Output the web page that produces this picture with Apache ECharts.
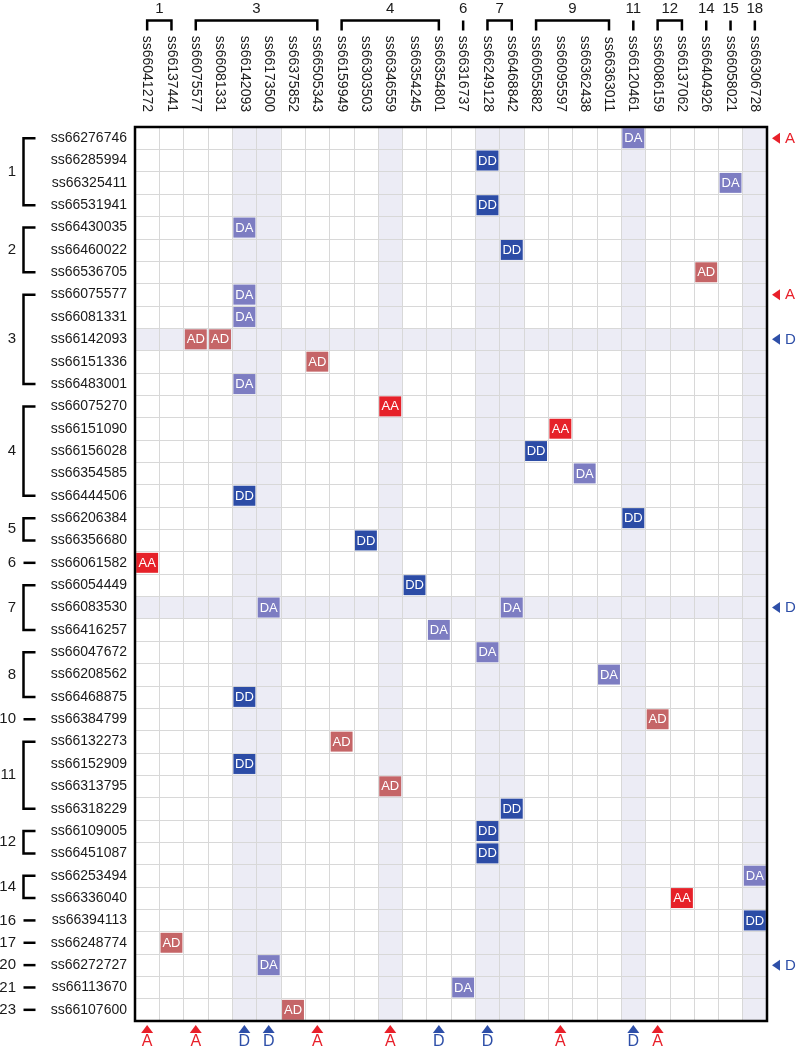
<!DOCTYPE html>
<html><head><meta charset="utf-8">
<script src="https://cdn.jsdelivr.net/npm/echarts@6/dist/echarts.min.js"></script>
<style>html,body{margin:0;padding:0;background:#fff}#c{width:798px;height:1050px}</style>
</head><body><div id="c"></div>
<script>
const colLabels = ['ss66041272','ss66137441','ss66075577','ss66081331','ss66142093','ss66173500','ss66375852','ss66505343','ss66159949','ss66303503','ss66346559','ss66354245','ss66354801','ss66316737','ss66249128','ss66468842','ss66055882','ss66095597','ss66362438','ss66363011','ss66120461','ss66086159','ss66137062','ss66404926','ss66058021','ss66306728'];
const colGroupLabels = ['1','3','4','6','7','9','11','12','14','15','18'];
const colGroupSizes = [2,6,5,1,2,4,1,2,1,1,1];
const rowLabels = ['ss66276746','ss66285994','ss66325411','ss66531941','ss66430035','ss66460022','ss66536705','ss66075577','ss66081331','ss66142093','ss66151336','ss66483001','ss66075270','ss66151090','ss66156028','ss66354585','ss66444506','ss66206384','ss66356680','ss66061582','ss66054449','ss66083530','ss66416257','ss66047672','ss66208562','ss66468875','ss66384799','ss66132273','ss66152909','ss66313795','ss66318229','ss66109005','ss66451087','ss66253494','ss66336040','ss66394113','ss66248774','ss66272727','ss66113670','ss66107600'];
const rowGroupLabels = ['1','2','3','4','5','6','7','8','10','11','12','14','16','17','20','21','23'];
const rowGroupSizes = [4,3,5,5,2,1,3,3,1,4,2,2,1,1,1,1,1];
const genotypes = ['AA','AD','DA','DD'];
// [column index, row index, genotype]
const cells = [
  [20,0,'DA'],[14,1,'DD'],[24,2,'DA'],[14,3,'DD'],[4,4,'DA'],[15,5,'DD'],[23,6,'AD'],
  [4,7,'DA'],[4,8,'DA'],[2,9,'AD'],[3,9,'AD'],[7,10,'AD'],[4,11,'DA'],
  [10,12,'AA'],[17,13,'AA'],[16,14,'DD'],[18,15,'DA'],[4,16,'DD'],
  [20,17,'DD'],[9,18,'DD'],[0,19,'AA'],[11,20,'DD'],[5,21,'DA'],[15,21,'DA'],[12,22,'DA'],
  [14,23,'DA'],[19,24,'DA'],[4,25,'DD'],[21,26,'AD'],[8,27,'AD'],[4,28,'DD'],[10,29,'AD'],[15,30,'DD'],
  [14,31,'DD'],[14,32,'DD'],[25,33,'DA'],[22,34,'AA'],[25,35,'DD'],[1,36,'AD'],[5,37,'DA'],[13,38,'DA'],[6,39,'AD']
];
const shadedCols = [4,5,10,14,15,20,25];
const shadedRows = [9,21];
const bottomMarkers = [[0,'A'],[2,'A'],[4,'D'],[5,'D'],[7,'A'],[10,'A'],[12,'D'],[14,'D'],[17,'A'],[20,'D'],[21,'A']];
const rightMarkers = [[0,'A'],[7,'A'],[9,'D'],[21,'D'],[37,'D']];
const markerTypes = ['A','D'];

const genoColors = {AA:'#e62129', AD:'#c56567', DA:'#7d7dc2', DD:'#2c4ca6'};
const markerColors = {A:'#e8202a', D:'#2e4fa8'};
const shadeColor = '#ececf5';
const FONT = '"Liberation Sans", Arial, sans-serif';

function spans(sizes){ let s=0; return sizes.map(n=>{ const r=[s,s+n-1]; s+=n; return r; }); }
const colSpans = spans(colGroupSizes);
const rowSpans = spans(rowGroupSizes);

const chart = echarts.init(document.getElementById('c'), null, {renderer:'canvas'});
const LW = 2.5;

const option = {
  animation:false,
  backgroundColor:'#fff',
  grid:{left:135, right:31, top:127, bottom:29, show:false, containLabel:false},
  xAxis:{type:'category', position:'top', data:colLabels,
    axisLine:{show:false}, axisTick:{show:false},
    axisLabel:{rotate:90, interval:0, margin:15, fontSize:14, color:'#1a1a1a', fontFamily:FONT},
    splitLine:{show:true, interval:0, lineStyle:{color:'#d8d8d8', width:1}}},
  yAxis:{type:'category', inverse:true, data:rowLabels,
    axisLine:{show:false}, axisTick:{show:false},
    axisLabel:{interval:0, margin:8, fontSize:14, color:'#1a1a1a', fontFamily:FONT},
    splitLine:{show:true, interval:0, lineStyle:{color:'#d8d8d8', width:1}}},
  series:[
    { type:'custom', z:-1, silent:true, clip:false,
      data: shadedCols.map(c=>[c,0,0]).concat(shadedRows.map(r=>[0,r,1])),
      renderItem(params, api){
        const cs = params.coordSys; const sz = api.size([1,1]);
        if(api.value(2)===0){
          const x = api.coord([api.value(0),0])[0];
          return {type:'rect', shape:{x:x-sz[0]/2, y:cs.y, width:sz[0], height:cs.height}, style:{fill:shadeColor}};
        } else {
          const y = api.coord([0,api.value(1)])[1];
          return {type:'rect', shape:{x:cs.x, y:y-sz[1]/2, width:cs.width, height:sz[1]}, style:{fill:shadeColor}};
        }
      }
    },
    { type:'custom', z:3, silent:true, clip:false,
      data: cells.map(([c,r,g])=>[c,r,genotypes.indexOf(g)]),
      renderItem(params, api){
        const p = api.coord([api.value(0), api.value(1)]);
        const sz = api.size([1,1]);
        const g = genotypes[api.value(2)];
        const w = sz[0]-2.4, h = sz[1]-2.4;
        return {type:'group', children:[
          {type:'rect', shape:{x:p[0]-w/2, y:p[1]-h/2, width:w, height:h}, style:{fill:genoColors[g]}},
          {type:'text', style:{x:p[0], y:p[1]+0.5, text:g, align:'center', verticalAlign:'middle', fill:'#fff', fontSize:13, fontFamily:FONT}}
        ]};
      }
    },
    { type:'custom', z:4, silent:true, clip:false,
      data: [[0,0]],
      renderItem(params, api){
        const cs = params.coordSys;
        return {type:'rect', shape:{x:cs.x, y:cs.y, width:cs.width, height:cs.height}, style:{fill:null, stroke:'#000', lineWidth:2.5}};
      }
    },
    { type:'custom', z:3, silent:true, clip:false,
      data: colSpans.map((s,i)=>[s[0],0,s[1],i]),
      renderItem(params, api){
        const cs = params.coordSys;
        const x1 = api.coord([api.value(0),0])[0];
        const x2 = api.coord([api.value(2),0])[0];
        const yTop = cs.y - 106.5, yBot = cs.y - 96.5;
        const line = x1===x2
          ? {type:'polyline', shape:{points:[[x1,yTop],[x1,yBot]]}, style:{stroke:'#000', lineWidth:LW, fill:null}}
          : {type:'polyline', shape:{points:[[x1,yBot],[x1,yTop],[x2,yTop],[x2,yBot]]}, style:{stroke:'#000', lineWidth:LW, fill:null}};
        return {type:'group', children:[line,
          {type:'text', style:{x:(x1+x2)/2, y:cs.y-118.5, text:colGroupLabels[api.value(3)], align:'center', verticalAlign:'middle', fill:'#1a1a1a', fontSize:15, fontFamily:FONT}}]};
      }
    },
    { type:'custom', z:3, silent:true, clip:false,
      data: rowSpans.map((s,i)=>[0,s[0],s[1],i]),
      renderItem(params, api){
        const cs = params.coordSys;
        const y1 = api.coord([0,api.value(1)])[1];
        const y2 = api.coord([0,api.value(2)])[1];
        const xV = cs.x - 111.5, xE = cs.x - 99.5;
        const line = y1===y2
          ? {type:'polyline', shape:{points:[[xV,y1],[xE,y1]]}, style:{stroke:'#000', lineWidth:LW, fill:null}}
          : {type:'polyline', shape:{points:[[xE,y1],[xV,y1],[xV,y2],[xE,y2]]}, style:{stroke:'#000', lineWidth:LW, fill:null}};
        return {type:'group', children:[line,
          {type:'text', style:{x:cs.x-119, y:(y1+y2)/2, text:rowGroupLabels[api.value(3)], align:'right', verticalAlign:'middle', fill:'#1a1a1a', fontSize:15, fontFamily:FONT}}]};
      }
    },
    { type:'custom', z:3, silent:true, clip:false,
      data: bottomMarkers.map(([c,t])=>[c,0,markerTypes.indexOf(t)]),
      renderItem(params, api){
        const cs = params.coordSys;
        const x = api.coord([api.value(0),0])[0];
        const t = markerTypes[api.value(2)];
        const yb = cs.y + cs.height;
        return {type:'group', children:[
          {type:'polygon', shape:{points:[[x,yb+4],[x-6,yb+12],[x+6,yb+12]]}, style:{fill:markerColors[t]}},
          {type:'text', style:{x:x, y:yb+20.5, text:t, align:'center', verticalAlign:'middle', fill:markerColors[t], fontSize:16, fontFamily:FONT}}
        ]};
      }
    },
    { type:'custom', z:3, silent:true, clip:false,
      data: rightMarkers.map(([r,t])=>[0,r,markerTypes.indexOf(t)]),
      renderItem(params, api){
        const cs = params.coordSys;
        const y = api.coord([0,api.value(1)])[1];
        const t = markerTypes[api.value(2)];
        const xr = cs.x + cs.width;
        return {type:'group', children:[
          {type:'polygon', shape:{points:[[xr+5,y],[xr+13,y-5.5],[xr+13,y+5.5]]}, style:{fill:markerColors[t]}},
          {type:'text', style:{x:xr+18, y:y+0.5, text:t, align:'left', verticalAlign:'middle', fill:markerColors[t], fontSize:15, fontFamily:FONT}}
        ]};
      }
    }
  ]
};
chart.setOption(option);
</script></body></html>
